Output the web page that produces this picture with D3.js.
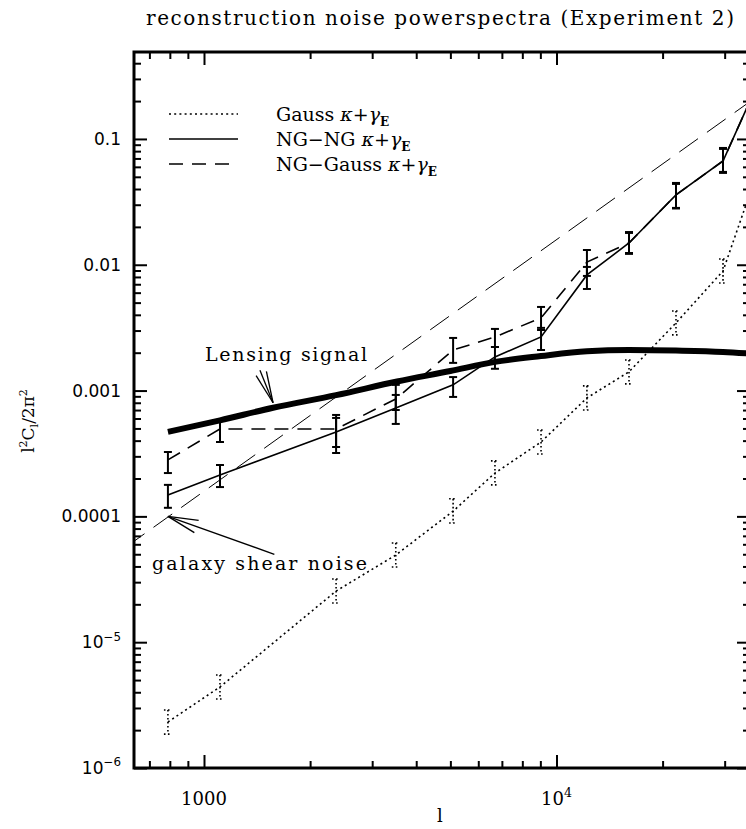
<!DOCTYPE html>
<html>
<head>
<meta charset="utf-8">
<script src="https://cdn.jsdelivr.net/npm/d3@7"></script>
<style>
  body { margin: 0; background: #fff; }
</style>
</head>
<body>
<div id="chart"></div>
<script>
// multipole bins (last one sits just past the right edge of the frame)
var ells = [790, 1110, 2370, 3500, 5090, 6690, 9040, 12200, 16060, 21830, 29680, 40000];

var gaussVals = [2.32e-6, 4.41e-6, 2.55e-5, 4.93e-5, 1.10e-4, 2.21e-4, 3.90e-4, 8.74e-4, 1.41e-3, 3.45e-3, 8.93e-3, 0.099];
var gaussHi   = [2.89e-6, 5.49e-6, 3.18e-5, 6.15e-5, 1.38e-4, 2.76e-4, 4.86e-4, 1.09e-3, 1.75e-3, 4.29e-3, 0.0111, null];
var gaussLo   = [1.86e-6, 3.54e-6, 2.05e-5, 3.96e-5, 8.86e-5, 1.78e-4, 3.13e-4, 7.01e-4, 1.13e-3, 2.77e-3, 7.17e-3, null];

var ngngVals = [1.48e-4, 2.13e-4, 4.69e-4, 7.27e-4, 1.11e-3, 1.85e-3, 2.67e-3, 8.30e-3, 0.0149, 0.0359, 0.0668, 0.43];
var ngngHi   = [1.78e-4, 2.56e-4, 6.06e-4, 9.23e-4, 1.28e-3, 2.22e-3, 3.15e-3, 9.61e-3, 0.0182, 0.0447, 0.0848, null];
var ngngLo   = [1.17e-4, 1.71e-4, 3.19e-4, 5.43e-4, 8.90e-4, 1.49e-3, 2.10e-3, 6.42e-3, 0.0122, 0.0280, 0.0537, null];

var ngGaussVals = [2.81e-4, 4.95e-4, 4.95e-4, 8.57e-4, 2.10e-3, 2.67e-3, 3.78e-3, 0.0105, 0.0149, 0.0359, 0.0668, 0.43];
var ngGaussHi   = [3.25e-4, 5.84e-4, 6.40e-4, 1.11e-3, 2.62e-3, 3.09e-3, 4.62e-3, 0.0131, 0.0179, 0.0439, 0.0833, null];
var ngGaussLo   = [2.21e-4, 3.90e-4, 3.56e-4, 7.01e-4, 1.66e-3, 2.22e-3, 3.03e-3, 8.15e-3, 0.0124, 0.0283, 0.0547, null];

// lensing signal power spectrum (thick curve)
var lensL = [790, 1110, 1570, 2370, 3530, 5000, 6690, 9040, 12200, 16060, 21830, 29680, 36000];
var lensV = [4.7e-4, 5.8e-4, 7.3e-4, 9.2e-4, 1.18e-3, 1.43e-3, 1.69e-3, 1.88e-3, 2.05e-3, 2.10e-3, 2.08e-3, 2.03e-3, 1.96e-3];

// galaxy shear noise (straight line, long dashes)
var noiseL = [600, 36000];
var noiseV = [5.7e-5, 0.205];

var xTickValues = [1000, 10000];
var xTickLabels = ["1000", "10^4"];
var yTickValues = [1e-6, 1e-5, 1e-4, 1e-3, 0.01, 0.1];
var yTickLabels = ["10^-6", "10^-5", "0.0001", "0.001", "0.01", "0.1"];

var legendNames = ["Gauss", "NG\u2212NG", "NG\u2212Gauss"];

var LEFT = 134, RIGHT = 750, TOP = 52, BOTTOM = 768;
var DOTS = "2,3.2";
var DASHES = "14,9";
var LONG_DASHES = "23,11";

var svg = d3.select("#chart").append("svg")
  .attr("width", 746)
  .attr("height", 829)
  .style("font-family", "'DejaVu Serif', serif");

var x = d3.scaleLog().domain([633, 35400]).range([LEFT, RIGHT]);
var y = d3.scaleLog().domain([1e-6, 0.491]).range([BOTTOM, TOP]);

// text with "^" exponent -> superscript tspan
function richText(sel, str, size) {
  var parts = str.split("^");
  sel.append("tspan").text(parts[0]);
  if (parts.length > 1) {
    sel.append("tspan")
      .attr("dy", -size * 0.45)
      .attr("font-size", size * 0.7)
      .text(parts[1].replace("-", "\u2212"));
  }
}

svg.append("defs").append("clipPath").attr("id", "plotclip")
  .append("rect")
  .attr("x", LEFT).attr("y", TOP)
  .attr("width", RIGHT - LEFT).attr("height", BOTTOM - TOP);

// title
svg.append("text")
  .attr("x", 440)
  .attr("y", 25)
  .attr("text-anchor", "middle")
  .attr("font-size", 20)
  .attr("textLength", 588)
  .text("reconstruction noise powerspectra (Experiment 2)");

// ticks, all pointing inward
function tickAxis(axis, tx, ty, values, size) {
  var g = svg.append("g")
    .attr("transform", "translate(" + tx + "," + ty + ")")
    .call(axis.tickValues(values).tickSize(-size).tickSizeOuter(0).tickFormat(""));
  g.select(".domain").remove();
  g.selectAll(".tick line").attr("stroke", "#000").attr("stroke-width", 2);
}
var xMinor = x.ticks().filter(function(t) { return xTickValues.indexOf(t) < 0; });
var yMinor = y.ticks().filter(function(t) { return yTickValues.indexOf(t) < 0; });

tickAxis(d3.axisBottom(x), 0, BOTTOM, xTickValues, 13);
tickAxis(d3.axisBottom(x), 0, BOTTOM, xMinor, 7);
tickAxis(d3.axisTop(x), 0, TOP, xTickValues, 13);
tickAxis(d3.axisTop(x), 0, TOP, xMinor, 7);
tickAxis(d3.axisLeft(y), LEFT, 0, yTickValues, 13);
tickAxis(d3.axisLeft(y), LEFT, 0, yMinor, 7);
tickAxis(d3.axisRight(y), RIGHT, 0, yTickValues, 13);
tickAxis(d3.axisRight(y), RIGHT, 0, yMinor, 7);

svg.append("rect")
  .attr("x", LEFT).attr("y", TOP)
  .attr("width", RIGHT - LEFT).attr("height", BOTTOM - TOP)
  .attr("fill", "none")
  .attr("stroke", "#000")
  .attr("stroke-width", 3);

// tick labels
xTickValues.forEach(function(v, i) {
  var t = svg.append("text")
    .attr("x", x(v))
    .attr("y", 805)
    .attr("text-anchor", "middle")
    .attr("font-size", 18);
  richText(t, xTickLabels[i], 18);
});
yTickValues.forEach(function(v, i) {
  var t = svg.append("text")
    .attr("x", 121)
    .attr("y", y(v) + 6)
    .attr("text-anchor", "end")
    .attr("font-family", "'DejaVu Sans', sans-serif")
    .attr("font-size", 17);
  richText(t, yTickLabels[i], 17);
});

// axis titles
svg.append("text")
  .attr("x", 440)
  .attr("y", 822)
  .attr("text-anchor", "middle")
  .attr("font-size", 18)
  .text("l");

var yl = svg.append("text")
  .attr("transform", "translate(34,421) rotate(-90)")
  .attr("text-anchor", "middle")
  .attr("font-size", 17);
yl.append("tspan").text("l");
yl.append("tspan").attr("dy", -7).attr("font-size", 11).text("2");
yl.append("tspan").attr("dy", 7).text("C");
yl.append("tspan").attr("dy", 4).attr("font-size", 11).text("l");
yl.append("tspan").attr("dy", -4).text("/2\u03c0");
yl.append("tspan").attr("dy", -7).attr("font-size", 11).text("2");

// plot contents
var plot = svg.append("g").attr("clip-path", "url(#plotclip)");

function zip(ls, vs) {
  return ls.map(function(l, i) { return { l: l, v: vs[i] }; });
}
var line = d3.line()
  .x(function(d) { return x(d.l); })
  .y(function(d) { return y(d.v); });

function drawSeries(vals, hi, lo, dash, width, barDash) {
  plot.append("path")
    .datum(zip(ells, vals))
    .attr("d", line)
    .attr("fill", "none")
    .attr("stroke", "#000")
    .attr("stroke-width", width)
    .attr("stroke-dasharray", dash);
  var bars = plot.append("g")
    .attr("stroke", "#000")
    .attr("stroke-width", barDash ? 1.6 : 2)
    .attr("stroke-dasharray", barDash);
  ells.forEach(function(l, i) {
    if (hi[i] == null) return;
    var cx = x(l);
    bars.append("line")
      .attr("x1", cx).attr("x2", cx)
      .attr("y1", y(hi[i])).attr("y2", y(lo[i]));
    [hi[i], lo[i]].forEach(function(v) {
      bars.append("line")
        .attr("x1", cx - 4).attr("x2", cx + 4)
        .attr("y1", y(v)).attr("y2", y(v));
    });
  });
}

// galaxy shear noise
plot.append("path")
  .datum(zip(noiseL, noiseV))
  .attr("d", line)
  .attr("fill", "none")
  .attr("stroke", "#000")
  .attr("stroke-width", 1)
  .attr("stroke-dasharray", LONG_DASHES);

// lensing signal
plot.append("path")
  .datum(zip(lensL, lensV))
  .attr("d", line.curve(d3.curveMonotoneX))
  .attr("fill", "none")
  .attr("stroke", "#000")
  .attr("stroke-width", 6);
line.curve(d3.curveLinear);

drawSeries(gaussVals, gaussHi, gaussLo, DOTS, 1.6, "1.6,2.4");
drawSeries(ngGaussVals, ngGaussHi, ngGaussLo, DASHES, 1.6, null);
drawSeries(ngngVals, ngngHi, ngngLo, null, 1.6, null);

// arrows, anchored on the curves they label
function arrow(tipL, tipV, angle, shaft, head, spread) {
  var tx = x(tipL), ty = y(tipV);
  var a = angle * Math.PI / 180;
  var s = Math.PI * spread / 180;
  var g = plot.append("g").attr("stroke", "#000").attr("stroke-width", 1.3);
  g.append("line")
    .attr("x1", tx).attr("y1", ty)
    .attr("x2", tx + shaft * Math.cos(a)).attr("y2", ty + shaft * Math.sin(a));
  [-s, s].forEach(function(d) {
    g.append("line")
      .attr("x1", tx).attr("y1", ty)
      .attr("x2", tx + head * Math.cos(a + d)).attr("y2", ty + head * Math.sin(a + d));
  });
}
arrow(1570, 8.0e-4, 248, 35, 32, 10);
arrow(790, 1.0e-4, 19.6, 113, 31, 12);

svg.append("text")
  .attr("x", 205).attr("y", 361)
  .attr("font-size", 19)
  .attr("textLength", 162)
  .text("Lensing signal");
svg.append("text")
  .attr("x", 152).attr("y", 570)
  .attr("font-size", 19)
  .attr("textLength", 215)
  .text("galaxy shear noise");

// legend
var legendDash = [DOTS, null, DASHES];
legendNames.forEach(function(name, i) {
  var ly = 114 + i * 25;
  svg.append("line")
    .attr("x1", 169).attr("x2", 238)
    .attr("y1", ly).attr("y2", ly)
    .attr("stroke", "#000")
    .attr("stroke-width", 1.6)
    .attr("stroke-dasharray", legendDash[i]);
  var t = svg.append("text")
    .attr("x", 276).attr("y", ly + 7)
    .attr("font-size", 19);
  t.append("tspan").text(name + " ");
  t.append("tspan").attr("font-style", "italic").text("\u03ba");
  t.append("tspan").text("+");
  t.append("tspan").attr("font-style", "italic").text("\u03b3");
  t.append("tspan").attr("dy", 5).attr("font-size", 12).attr("font-weight", "bold").text("E");
});
</script>
</body>
</html>
